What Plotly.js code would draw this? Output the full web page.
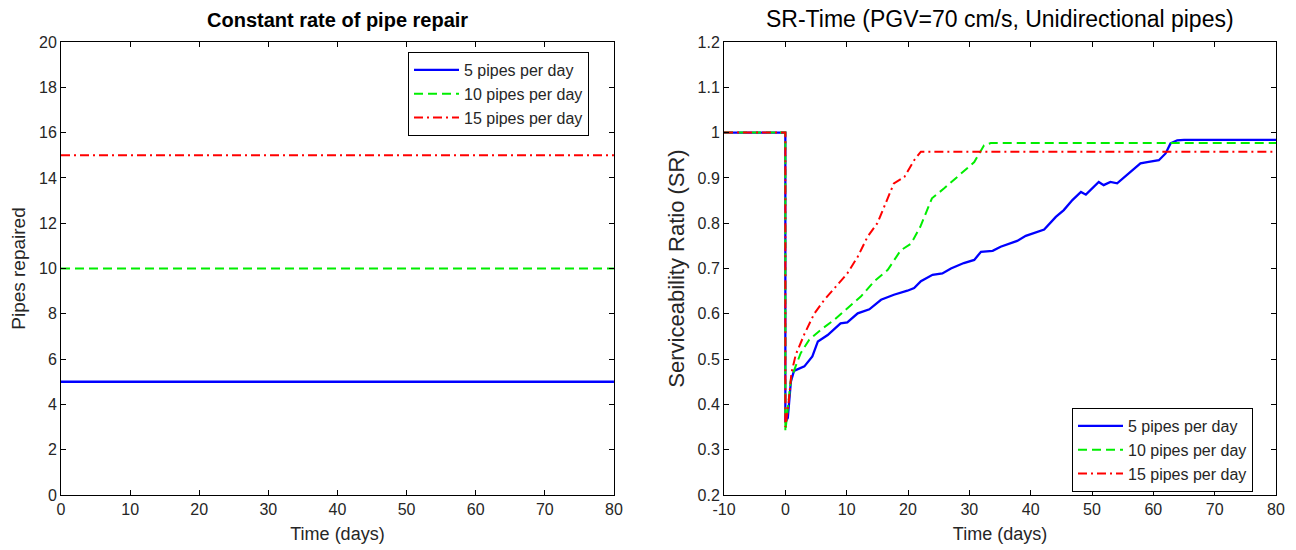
<!DOCTYPE html>
<html>
<head>
<meta charset="utf-8">
<script src="https://cdn.plot.ly/plotly-3.0.1.min.js"></script>
<style>
  html, body { margin: 0; padding: 0; background: #fff; }
  #chart { width: 1296px; height: 550px; }
</style>
</head>
<body>
<div id="chart"></div>
<script>
// ---------- Data ----------
const seriesNames = ["5 pipes per day", "10 pipes per day", "15 pipes per day"];

// Left chart: constant repair rates
const rateTime = [0, 80];
const rate5 = [5, 5];
const rate10 = [10, 10];
const rate15 = [15, 15];

// Right chart: serviceability ratio vs time
const t5 = [-10, 0, 0, 0.4, 0.9, 1.4, 3.1, 4.4, 5.3, 6.9, 9.0, 10.1, 11.8, 13.7, 15.6, 17.7, 19.9, 21.0, 22.1, 24.0, 25.6, 27.0, 29.1, 30.8, 31.9, 33.8, 35.1, 37.8, 39.2, 42.2, 44.1, 45.4, 46.8, 48.2, 49.0, 51.1, 51.9, 53.0, 54.1, 55.7, 57.9, 59.0, 60.9, 62.0, 62.8, 63.9, 65.0, 80];
const sr5 = [1, 1, 0.36, 0.37, 0.45, 0.474, 0.484, 0.506, 0.539, 0.553, 0.579, 0.581, 0.601, 0.61, 0.631, 0.642, 0.651, 0.657, 0.672, 0.686, 0.689, 0.70, 0.712, 0.719, 0.737, 0.739, 0.748, 0.761, 0.772, 0.786, 0.814, 0.829, 0.851, 0.869, 0.863, 0.891, 0.884, 0.891, 0.888, 0.906, 0.932, 0.935, 0.939, 0.954, 0.976, 0.983, 0.984, 0.984];

const t10 = [-10, 0, 0, 0.6, 0.9, 1.7, 2.5, 3.9, 5.8, 8.0, 10.1, 12.3, 14.5, 16.7, 18.8, 20.5, 22.0, 23.9, 25.9, 28.3, 30.8, 32.4, 33.5, 80];
const sr10 = [1, 1, 0.34, 0.42, 0.455, 0.485, 0.513, 0.543, 0.565, 0.587, 0.612, 0.638, 0.672, 0.697, 0.74, 0.755, 0.792, 0.855, 0.877, 0.906, 0.935, 0.972, 0.977, 0.977];

const t15 = [-10, 0, 0, 0.5, 1.0, 1.7, 3.1, 4.7, 6.3, 8.5, 10.1, 11.8, 13.4, 15.0, 16.7, 17.7, 19.4, 21.0, 22.1, 80];
const sr15 = [1, 1, 0.35, 0.40, 0.47, 0.51, 0.555, 0.60, 0.63, 0.664, 0.689, 0.726, 0.77, 0.80, 0.858, 0.888, 0.902, 0.939, 0.958, 0.958];

// Tick labels of the right chart's time axis (plain hyphen for -10)
const timeTicks2 = [-10, 0, 10, 20, 30, 40, 50, 60, 70, 80];
const timeTickLabels2 = ["-10", "0", "10", "20", "30", "40", "50", "60", "70", "80"];

const leftTitle = "Constant rate of pipe repair";
const rightTitle = "SR-Time (PGV=70 cm/s, Unidirectional pipes)";
const xTitle = "Time (days)";
const yTitleLeft = "Pipes repaired";
const yTitleRight = "Serviceability Ratio (SR)";

// ---------- Styles ----------
const FONT = "Liberation Sans, Arial, Helvetica, sans-serif";
const TXT = "#262626";
const styles = [
  { color: "#0000ff", dash: "solid", width: 2.3 },
  { color: "#00ee00", dash: "9px,5px", width: 2 },
  { color: "#ff0000", dash: "9px,4px,2px,4px", width: 2 }
];

const leftY = [rate5, rate10, rate15];
const rightX = [t5, t10, t15];
const rightY = [sr5, sr10, sr15];

const traces = [];
for (let i = 0; i < 3; i++) {
  traces.push({
    type: "scatter", mode: "lines",
    x: rateTime, y: leftY[i],
    name: seriesNames[i],
    xaxis: "x", yaxis: "y",
    legend: "legend",
    line: { color: styles[i].color, dash: styles[i].dash, width: styles[i].width },
    hoverinfo: "skip"
  });
}
for (let i = 0; i < 3; i++) {
  traces.push({
    type: "scatter", mode: "lines",
    x: rightX[i], y: rightY[i],
    name: seriesNames[i],
    xaxis: "x2", yaxis: "y2",
    legend: "legend2",
    line: { color: styles[i].color, dash: styles[i].dash, width: styles[i].width },
    hoverinfo: "skip"
  });
}

const axisBase = {
  showline: true, mirror: "ticks", linecolor: "#000", linewidth: 1,
  ticks: "inside", ticklen: 5, tickcolor: "#000", tickwidth: 1,
  showgrid: false, zeroline: false, automargin: false,
  tickfont: { family: FONT, size: 16, color: TXT },
  fixedrange: true
};

const legendBase = {
  xref: "paper", yref: "paper",
  xanchor: "left", yanchor: "top",
  bgcolor: "#ffffff", bordercolor: "#000", borderwidth: 1,
  font: { family: FONT, size: 16, color: TXT },
  itemwidth: 45, tracegroupgap: 0
};

// plot area in pixels: left 61, right 1276, top 42, bottom 495
const layout = {
  width: 1296, height: 550,
  margin: { l: 61, r: 20, t: 42, b: 55, autoexpand: false },
  paper_bgcolor: "#ffffff", plot_bgcolor: "#ffffff",
  showlegend: true,
  font: { family: FONT, color: TXT },
  xaxis: Object.assign({}, axisBase, {
    domain: [0, 0.4551], anchor: "y", range: [0, 80], dtick: 10, tick0: 0,
    title: { text: xTitle, font: { family: FONT, size: 18, color: TXT }, standoff: 10 }
  }),
  yaxis: Object.assign({}, axisBase, {
    domain: [0, 1], anchor: "x", range: [0, 20], dtick: 2, tick0: 0,
    title: { text: yTitleLeft, font: { family: FONT, size: 19, color: TXT }, standoff: 8 }
  }),
  xaxis2: Object.assign({}, axisBase, {
    domain: [0.5457, 1], anchor: "y2", range: [-10, 80],
    tickmode: "array", tickvals: timeTicks2, ticktext: timeTickLabels2,
    title: { text: xTitle, font: { family: FONT, size: 18, color: TXT }, standoff: 10 }
  }),
  yaxis2: Object.assign({}, axisBase, {
    domain: [0, 1], anchor: "x2", range: [0.2, 1.2], dtick: 0.1, tick0: 0.2,
    title: { text: yTitleRight, font: { family: FONT, size: 22, color: TXT }, standoff: 6 }
  }),
  legend: Object.assign({}, legendBase, { x: 0.2856, y: 0.978 }),
  legend2: Object.assign({}, legendBase, { x: 0.8321, y: 0.192 }),
  annotations: [
    { text: "<b>" + leftTitle + "</b>", xref: "x domain", yref: "y domain", x: 0.5, y: 1,
      xanchor: "center", yanchor: "bottom", yshift: 9, showarrow: false,
      font: { family: FONT, size: 20, color: "#000" } },
    { text: rightTitle, xref: "x2 domain", yref: "y2 domain", x: 0.5, y: 1,
      xanchor: "center", yanchor: "bottom", yshift: 8, showarrow: false,
      font: { family: FONT, size: 23, color: "#000" } }
  ]
};

Plotly.newPlot("chart", traces, layout, { staticPlot: true, displayModeBar: false });
</script>
</body>
</html>
